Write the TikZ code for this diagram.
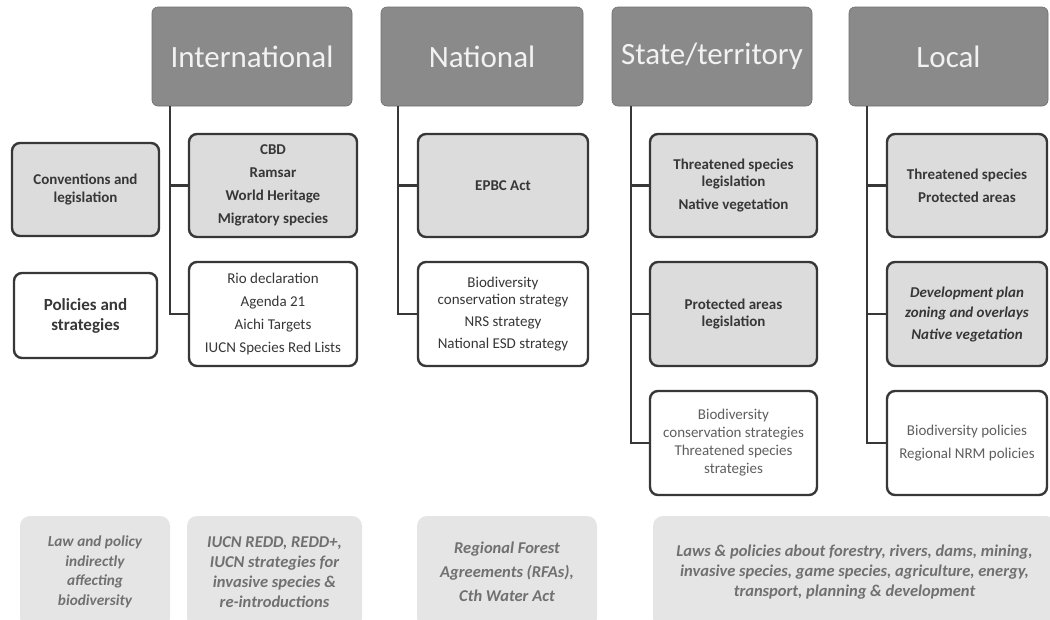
\documentclass[tikz,border=0pt]{standalone}
\usepackage{fontspec}
\setmainfont{Carlito}
\definecolor{headgray}{RGB}{138,138,138}
\definecolor{boxgray}{RGB}{220,220,220}
\definecolor{linegray}{RGB}{55,55,55}
\definecolor{softgray}{RGB}{95,95,95}
\definecolor{botgray}{RGB}{229,229,229}
\definecolor{bottext}{RGB}{112,112,112}
\begin{document}
\begin{tikzpicture}[x=1pt,y=-1pt,
    levelbox/.style={rectangle, rounded corners=6pt, fill=headgray, draw=headgray!80!black,
        line width=0.6pt, text=white!95!black, font=\fontsize{31}{36}\selectfont,
        minimum width=200pt, minimum height=99pt, inner sep=0pt},
    childbox/.style={rectangle, rounded corners=8pt, draw=linegray, line width=2.4pt,
        align=center, text=linegray, inner sep=2pt, minimum height=103pt},
    shadedbox/.style={childbox, fill=boxgray, font=\fontsize{15}{17.5}\selectfont\bfseries},
    whitebox/.style={childbox, fill=white, font=\fontsize{15}{17.5}\selectfont},
    otherbox/.style={rectangle, rounded corners=10pt, fill=botgray, align=center, text=bottext,
        font=\fontsize{16.5}{20}\selectfont\bfseries\itshape, minimum height=112pt, inner sep=2pt},
    branch/.style={draw=linegray, line width=2.2pt}]

    % Page area
    \clip (0,0) rectangle (1050,619);

    % Level headers
    \node[levelbox] (intl) at (252,56.5) {International};
    \node[levelbox, minimum width=202pt] (natl) at (482,56.5) {National};
    \node[levelbox] (state) at (712,56.5) {State/territory};
    \node[levelbox, minimum width=199pt] (local) at (948.5,56.5) {Local};

    % Row labels
    \node[shadedbox, minimum width=147pt, minimum height=93pt] (conv) at (85.5,189.5)
        {Conventions and\\legislation};
    \node[whitebox, minimum width=143pt, minimum height=85pt,
        font=\fontsize{17}{20}\selectfont\bfseries] (pol) at (85.5,315.5) {Policies and\\strategies};

    % International
    \node[shadedbox, minimum width=168pt] (cbd) at (273,185.5)
        {CBD\\[5.5pt]Ramsar\\[5.5pt]World Heritage\\[5.5pt]Migratory species};
    \node[whitebox, minimum width=168pt, minimum height=104pt] (rio) at (273,314)
        {Rio declaration\\[5.5pt]Agenda 21\\[5.5pt]Aichi Targets\\[5.5pt]IUCN Species Red Lists};

    % National
    \node[shadedbox, minimum width=170pt] (epbc) at (503,185.5) {EPBC Act};
    \node[whitebox, minimum width=170pt, minimum height=104pt] (bcs) at (503,314)
        {Biodiversity\\conservation strategy\\[4.5pt]NRS strategy\\[4.5pt]National ESD strategy};

    % State/territory
    \node[shadedbox, minimum width=167pt] (tsl) at (733.5,185.5)
        {Threatened species\\legislation\\[5.5pt]Native vegetation};
    \node[shadedbox, minimum width=167pt, minimum height=104pt] (pal) at (733.5,314)
        {Protected areas\\legislation};
    \node[whitebox, minimum width=167pt, minimum height=104pt, text=softgray,
        font=\fontsize{15}{18}\selectfont] (bcst) at (733.5,443)
        {Biodiversity\\conservation strategies\\Threatened species\\strategies};

    % Local
    \node[shadedbox, minimum width=160pt] (lts) at (967,185.5)
        {Threatened species\\[5.5pt]Protected areas};
    \node[shadedbox, minimum width=160pt, minimum height=104pt,
        font=\fontsize{15}{20}\selectfont\bfseries\itshape] (dev) at (967,314)
        {Development plan\\zoning and overlays\\[2pt]Native vegetation};
    \node[whitebox, minimum width=160pt, minimum height=104pt, text=softgray] (bpol) at (967,443)
        {Biodiversity policies\\[5.5pt]Regional NRM policies};

    % Branches
    \draw[branch] ([xshift=18pt]intl.south west) |- (cbd.west);
    \draw[branch] ([xshift=18pt]intl.south west) |- (rio.west);
    \draw[branch] ([xshift=17pt]natl.south west) |- (epbc.west);
    \draw[branch] ([xshift=17pt]natl.south west) |- (bcs.west);
    \draw[branch] ([xshift=19pt]state.south west) |- (tsl.west);
    \draw[branch] ([xshift=19pt]state.south west) |- (pal.west);
    \draw[branch] ([xshift=19pt]state.south west) |- (bcst.west);
    \draw[branch] ([xshift=18pt]local.south west) |- (lts.west);
    \draw[branch] ([xshift=18pt]local.south west) |- (dev.west);
    \draw[branch] ([xshift=18pt]local.south west) |- (bpol.west);

    % Indirect law and policy
    \node[otherbox, minimum width=150pt, font=\fontsize{15.3}{19.5}\selectfont\bfseries\itshape]
        (law) at (95,572) {Law and policy\\indirectly\\affecting\\biodiversity};
    \node[otherbox, minimum width=175pt] (redd) at (274.5,572)
        {IUCN REDD, REDD+,\\IUCN strategies for\\invasive species \&\\re-introductions};
    \node[otherbox, minimum width=180pt] (rfa) at (507,572)
        {Regional Forest\\[4pt]Agreements (RFAs),\\[4pt]Cth Water Act};
    \node[otherbox, minimum width=403pt] (laws) at (854.5,572)
        {Laws \& policies about forestry, rivers, dams, mining,\\invasive species, game species, agriculture, energy,\\transport, planning \& development};

\end{tikzpicture}
\end{document}
